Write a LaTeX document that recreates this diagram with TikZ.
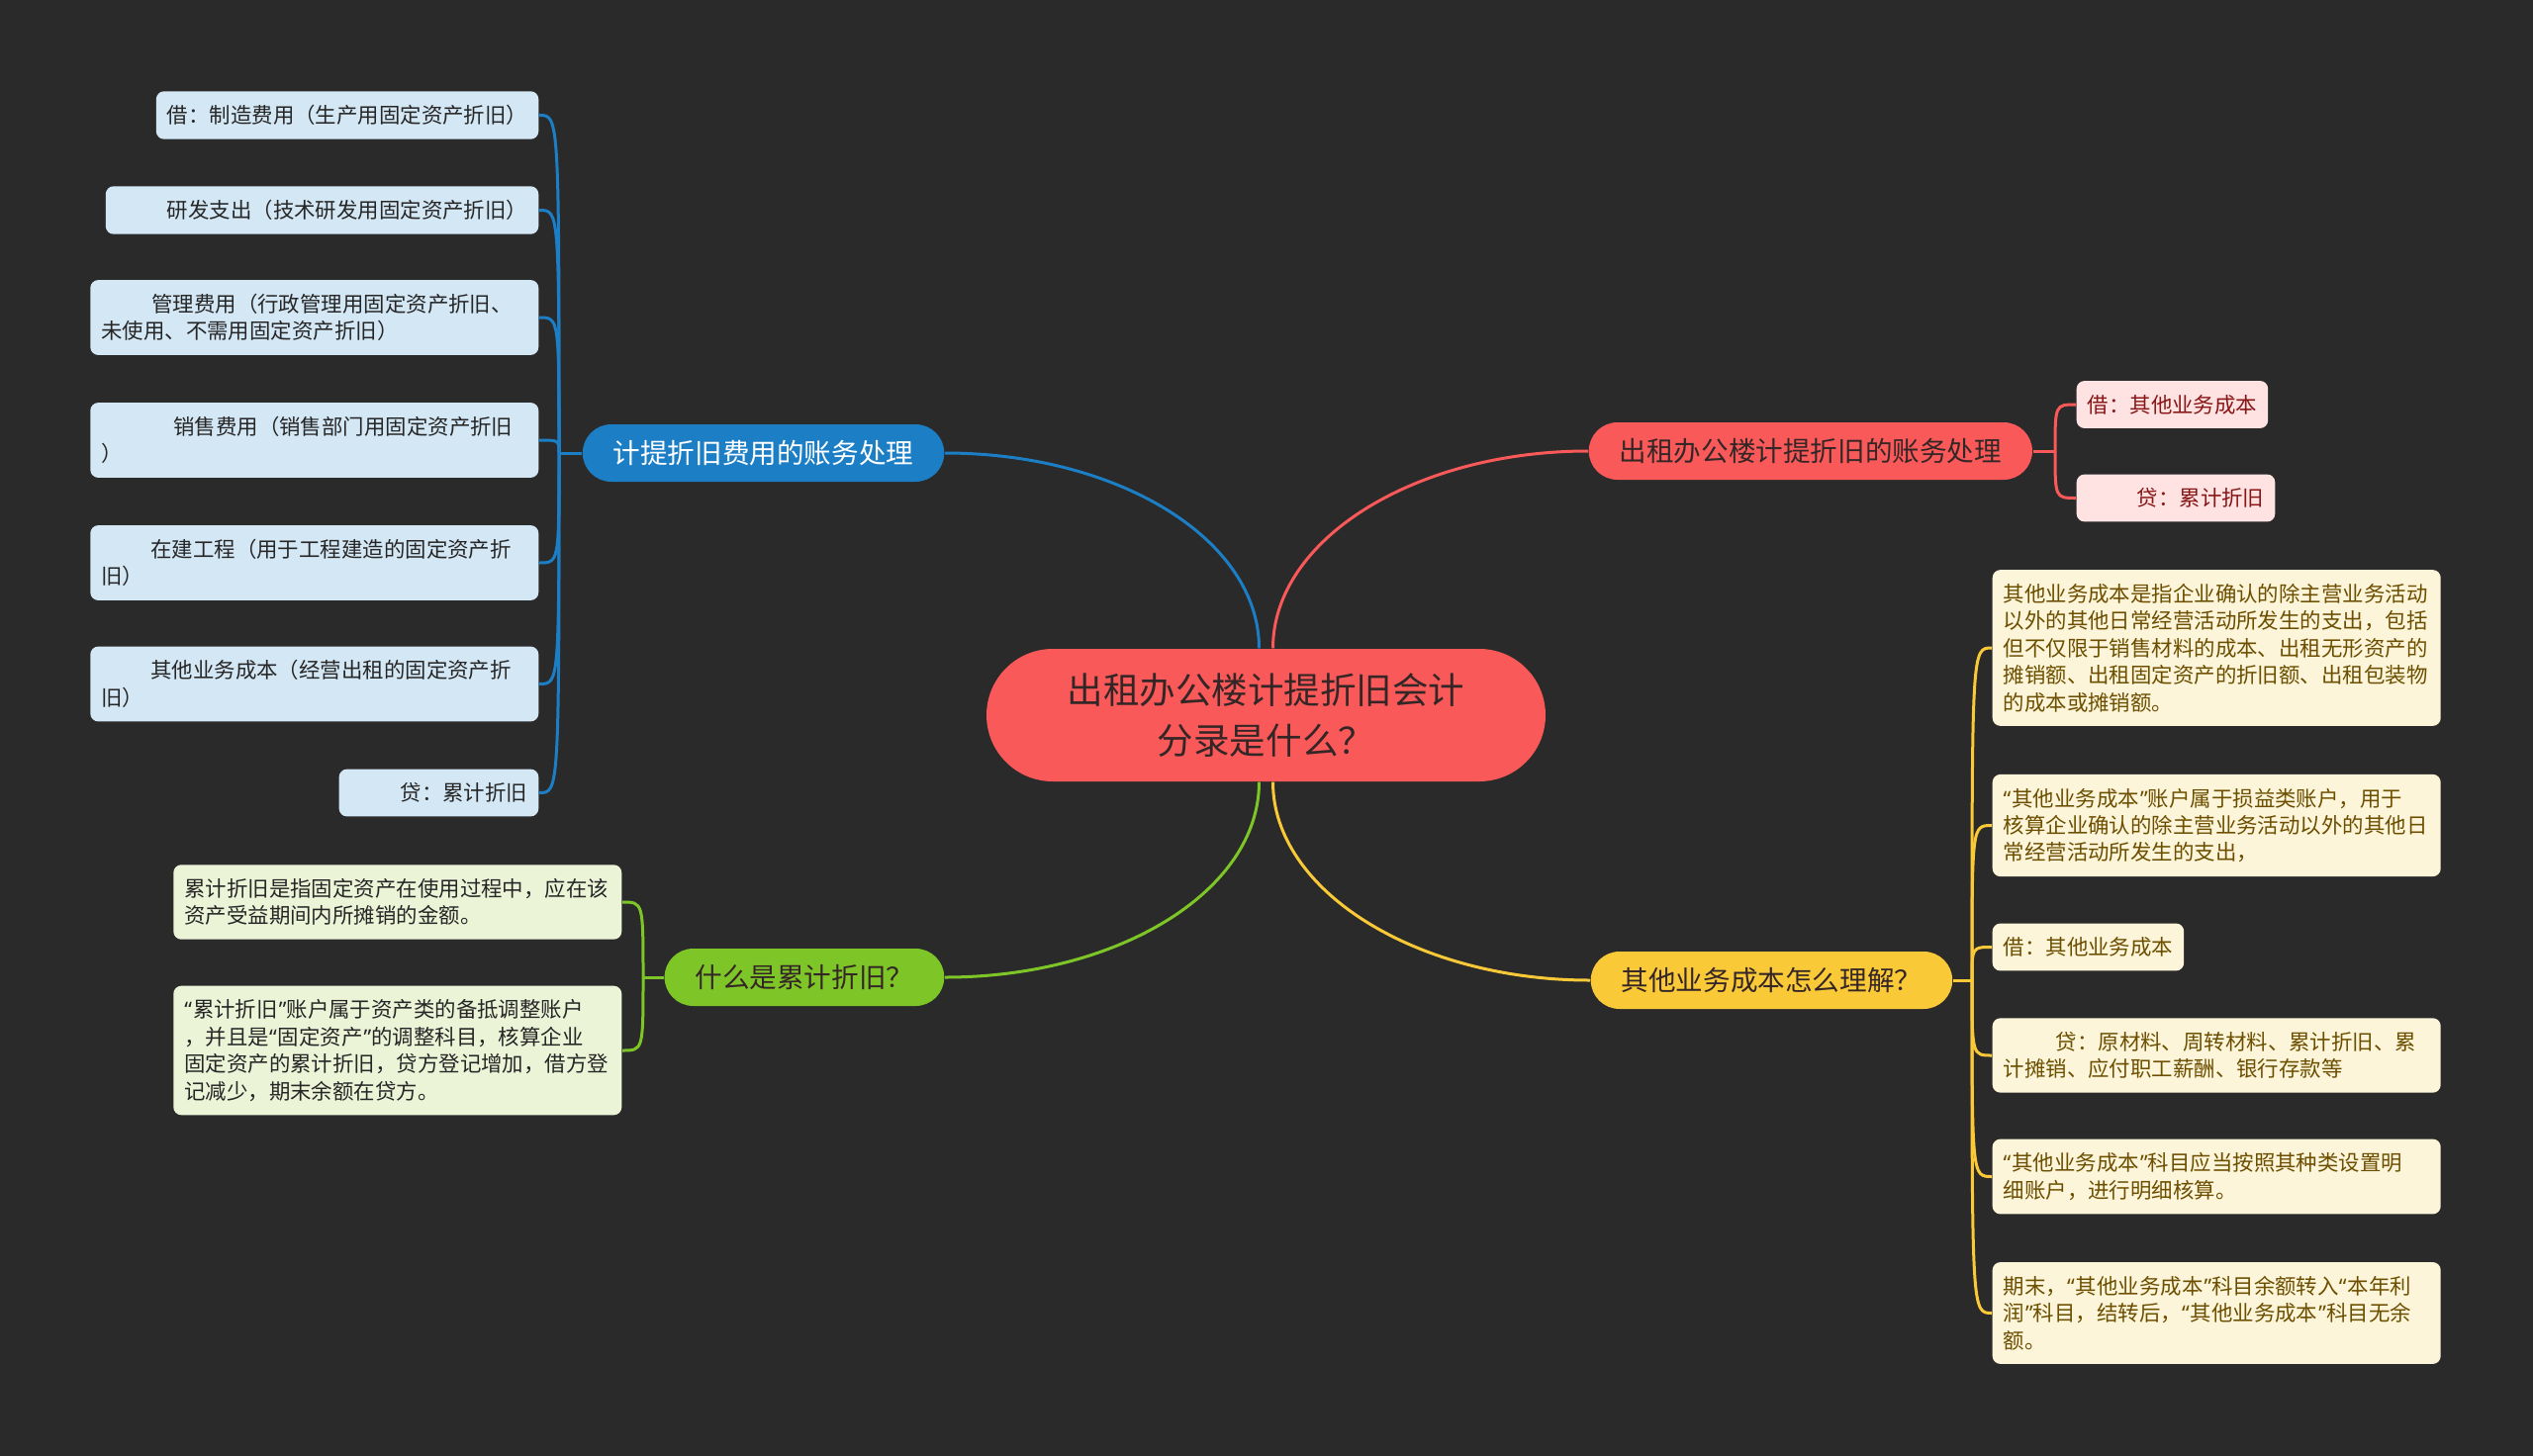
\documentclass[tikz,border=0pt]{standalone}
\usepackage{fontspec}
\setmainfont{Noto Sans CJK SC}
\newfontfamily\quotefont{Noto Sans}
\definecolor{bgdark}{RGB}{42,42,42}
\definecolor{rootred}{RGB}{250,89,89}
\definecolor{bluebr}{RGB}{28,126,197}
\definecolor{greenbr}{RGB}{126,198,40}
\definecolor{yellowbr}{RGB}{250,201,56}
\definecolor{blueleaf}{RGB}{212,231,245}
\definecolor{redleaf}{RGB}{255,226,226}
\definecolor{greenleaf}{RGB}{236,244,216}
\definecolor{yellowleaf}{RGB}{253,245,217}
\definecolor{darktext}{RGB}{52,38,38}
\definecolor{redtext}{RGB}{135,22,22}
\definecolor{browntext}{RGB}{108,78,0}
\newcommand{\leafsize}{\fontsize{6.1pt}{7.8pt}\selectfont}
\newcommand{\branchsize}{\fontsize{7.85pt}{9pt}\selectfont}
\newcommand{\rootsize}{\fontsize{10.4pt}{14.5pt}\selectfont}
\newcommand{\qo}{{\quotefont “}\kern0.05em}
\newcommand{\qc}{\kern0.05em{\quotefont ”}}
\begin{document}
\begin{tikzpicture}[every node/.style={rounded corners=0.08cm, inner xsep=0.11cm, inner ysep=0.14cm, align=left, font=\leafsize},
    branch/.style={rounded corners=0.29cm, minimum height=0.58cm, inner xsep=0.31cm, inner ysep=0cm, font=\branchsize},
    leaf/.style={minimum height=0.47cm},
    wide/.style={text width=4.31cm},
    link/.style={line width=0.03cm},
    fan/.style={link, to path={.. controls (\tikztostart|-\tikztotarget) .. (\tikztotarget)}}]
        \fill[bgdark] (0,0) rectangle (25.6,-14.72);
        \node[fill=rootred, text=darktext, font=\rootsize, align=center, minimum width=5.65cm, minimum height=1.34cm, rounded corners=0.67cm] (c) at (12.795,-7.23) {出租办公楼计提折旧会计\\分录是什么？};
        \node[branch, fill=bluebr, text=white, anchor=east] (1) at (9.55,-4.58) {计提折旧费用的账务处理};
        \node[branch, fill=rootred, text=darktext, anchor=west] (2) at (16.05,-4.56) {出租办公楼计提折旧的账务处理};
        \node[branch, fill=greenbr, text=darktext, anchor=east] (3) at (9.55,-9.88) {什么是累计折旧？};
        \node[branch, fill=yellowbr, text=darktext, anchor=west] (4) at (16.07,-9.91) {其他业务成本怎么理解？};
        \coordinate (j1) at (5.65,-4.58);
        \coordinate (j2) at (20.77,-4.56);
        \coordinate (j3) at (6.50,-9.88);
        \coordinate (j4) at (19.93,-9.91);
        % left, blue
        \node[leaf, fill=blueleaf, text=black!85, anchor=east] (1a) at (5.45,-1.165) {借：制造费用（生产用固定资产折旧）};
        \node[leaf, fill=blueleaf, text=black!85, anchor=east] (1b) at (5.45,-2.125) {\hspace*{0.51cm}研发支出（技术研发用固定资产折旧）};
        \node[leaf, wide, fill=blueleaf, text=black!85, anchor=east] (1c) at (5.45,-3.21) {\hspace*{0.51cm}管理费用（行政管理用固定资产折旧、\\未使用、不需用固定资产折旧）};
        \node[leaf, wide, fill=blueleaf, text=black!85, anchor=east] (1d) at (5.45,-4.45) {\hspace*{0.73cm}销售费用（销售部门用固定资产折旧\\）};
        \node[leaf, wide, fill=blueleaf, text=black!85, anchor=east] (1e) at (5.45,-5.69) {\hspace*{0.5cm}在建工程（用于工程建造的固定资产折\\旧）};
        \node[leaf, wide, fill=blueleaf, text=black!85, anchor=east] (1f) at (5.45,-6.915) {\hspace*{0.5cm}其他业务成本（经营出租的固定资产折\\旧）};
        \node[leaf, fill=blueleaf, text=black!85, anchor=east] (1g) at (5.45,-8.015) {\hspace*{0.51cm}贷：累计折旧};
        % right, red
        \node[leaf, fill=redleaf, text=redtext, anchor=west] (2a) at (20.98,-4.09) {借：其他业务成本};
        \node[leaf, fill=redleaf, text=redtext, anchor=west] (2b) at (20.98,-5.035) {\hspace*{0.5cm}贷：累计折旧};
        % left, green
        \node[leaf, wide, fill=greenleaf, text=black!85, anchor=east] (3a) at (6.29,-9.12) {累计折旧是指固定资产在使用过程中，应在该\\资产受益期间内所摊销的金额。};
        \node[leaf, wide, fill=greenleaf, text=black!85, anchor=east] (3b) at (6.29,-10.62) {\qo{}累计折旧\qc{}账户属于资产类的备抵调整账户\\，并且是\qo{}固定资产\qc{}的调整科目，核算企业\\固定资产的累计折旧，贷方登记增加，借方登\\记减少，期末余额在贷方。};
        % right, yellow
        \node[leaf, wide, fill=yellowleaf, text=browntext, anchor=west] (4a) at (20.13,-6.55) {其他业务成本是指企业确认的除主营业务活动\\以外的其他日常经营活动所发生的支出，包括\\但不仅限于销售材料的成本、出租无形资产的\\摊销额、出租固定资产的折旧额、出租包装物\\的成本或摊销额。};
        \node[leaf, wide, fill=yellowleaf, text=browntext, anchor=west] (4b) at (20.13,-8.345) {\qo{}其他业务成本\qc{}账户属于损益类账户，用于\\核算企业确认的除主营业务活动以外的其他日\\常经营活动所发生的支出，};
        \node[leaf, fill=yellowleaf, text=browntext, anchor=west] (4c) at (20.13,-9.575) {借：其他业务成本};
        \node[leaf, wide, fill=yellowleaf, text=browntext, anchor=west] (4d) at (20.13,-10.67) {\hspace*{0.53cm}贷：原材料、周转材料、累计折旧、累\\计摊销、应付职工薪酬、银行存款等};
        \node[leaf, wide, fill=yellowleaf, text=browntext, anchor=west] (4e) at (20.13,-11.895) {\qo{}其他业务成本\qc{}科目应当按照其种类设置明\\细账户，进行明细核算。};
        \node[leaf, wide, fill=yellowleaf, text=browntext, anchor=west] (4f) at (20.13,-13.275) {期末，\qo{}其他业务成本\qc{}科目余额转入\qo{}本年利\\润\qc{}科目，结转后，\qo{}其他业务成本\qc{}科目无余\\额。};
        % connectors
        \draw[link, bluebr] ([xshift=-0.07cm]c.north) .. controls +(0,1.1) and +(1.75,0) .. (1.east);
        \draw[link, rootred] ([xshift=0.07cm]c.north) .. controls +(0,1.1) and +(-1.75,0) .. (2.west);
        \draw[link, greenbr] ([xshift=-0.07cm]c.south) .. controls +(0,-1.1) and +(1.75,0) .. (3.east);
        \draw[link, yellowbr] ([xshift=0.07cm]c.south) .. controls +(0,-1.1) and +(-1.75,0) .. (4.west);
        \draw[link, bluebr] (1.west) -- (j1);
        \foreach \k in {a,...,g} \draw[fan, bluebr] (j1) to (1\k.east);
        \draw[link, rootred] (2.east) -- (j2);
        \foreach \k in {a,b} \draw[fan, rootred] (j2) to (2\k.west);
        \draw[link, greenbr] (3.west) -- (j3);
        \foreach \k in {a,b} \draw[fan, greenbr] (j3) to (3\k.east);
        \draw[link, yellowbr] (4.east) -- (j4);
        \foreach \k in {a,...,f} \draw[fan, yellowbr] (j4) to (4\k.west);
    \end{tikzpicture}
\end{document}
